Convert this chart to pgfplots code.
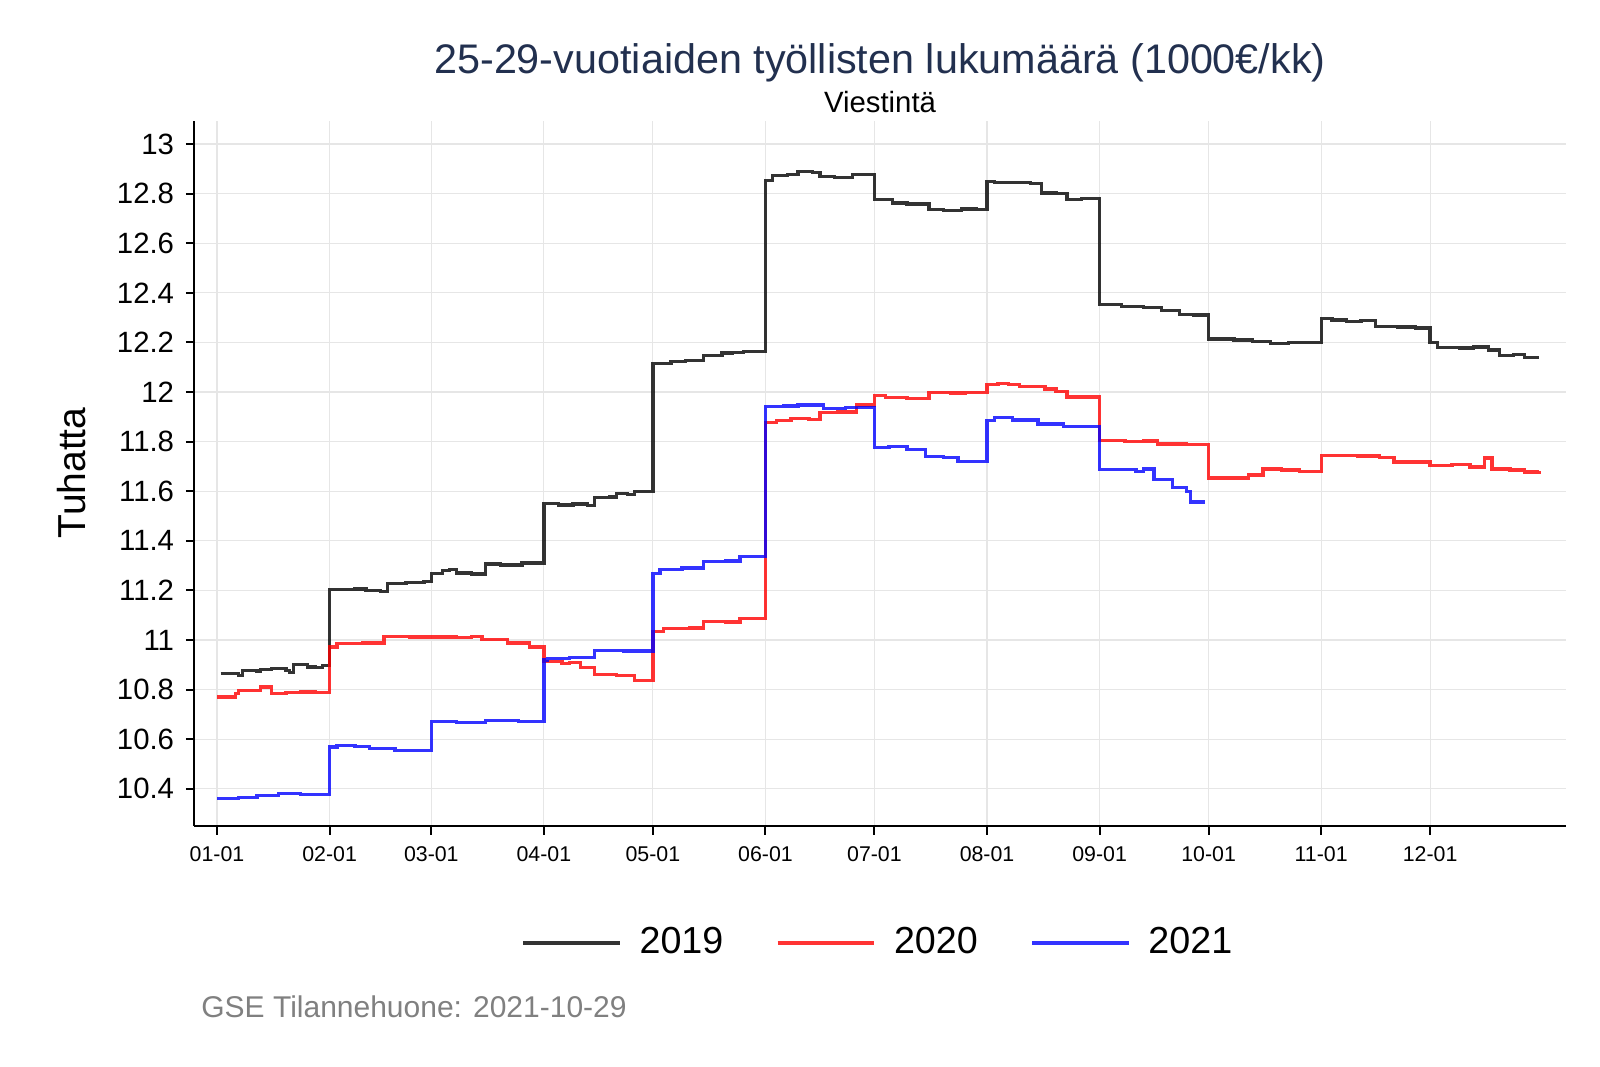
\documentclass[border=0pt]{standalone}
\usepackage{fontspec}
\setmainfont{Liberation Sans}
\usepackage{pgfplots}
\pgfplotsset{compat=1.18}
\definecolor{c19}{HTML}{000000}
\definecolor{c20}{HTML}{FF0000}
\definecolor{c21}{HTML}{0000FF}
\definecolor{titlecol}{HTML}{22304F}
\definecolor{gridc}{HTML}{E6E6E6}
\definecolor{capc}{HTML}{808080}
\begin{document}
\begin{tikzpicture}[x=1pt,y=1pt]
\useasboundingbox (0,0) rectangle (480,320.1);
\begin{axis}[
  at={(58.35pt,72.3pt)}, anchor=south west,
  scale only axis, width=411.45pt, height=211.5pt,
  xmin=-6.2, xmax=371.4, ymin=10.25, ymax=13.093,
  axis x line*=bottom, axis y line*=left,
  axis line style={black, line width=0.6pt},
  xtick={0,31,59,90,120,151,181,212,243,273,304,334},
  xticklabels={01-01,02-01,03-01,04-01,05-01,06-01,07-01,08-01,09-01,10-01,11-01,12-01},
  ytick={10.4,10.6,10.8,11,11.2,11.4,11.6,11.8,12,12.2,12.4,12.6,12.8,13},
  yticklabels={10.4,10.6,10.8,11,11.2,11.4,11.6,11.8,12,12.2,12.4,12.6,12.8,13},
  grid=major, grid style={gridc, line width=0.35pt},
  tick align=outside, major tick length=2.6pt, tick style={black, line width=0.6pt},
  xticklabel style={font=\fontsize{6.4}{7}\selectfont},
  yticklabel style={font=\fontsize{8.8}{10}\selectfont},
  legend columns=3,
  legend style={at={(0.5,-0.166)}, anchor=center, draw=none, fill=none,
    font=\fontsize{11.3}{13}\selectfont,
    /tikz/every odd column/.append style={column sep=3.4pt},
    /tikz/every even column/.append style={column sep=13.8pt}},
  legend image code/.code={\draw[#1, line width=1pt, opacity=0.8] (0pt,0pt) -- (29pt,0pt);},
  const plot, no marks,
]
\addplot[c19, line width=1pt, opacity=0.8] coordinates {
(1,10.865) (6,10.858) (7,10.878) (11,10.874) (12,10.88) (15,10.885) (19,10.876) (20,10.868) (21,10.902) (25,10.891) (27,10.888) (29,10.898)
(31,11.203) (38,11.205) (41,11.2) (45,11.195) (47,11.228) (52,11.232) (57,11.235) (59,11.268) (62,11.281) (64,11.285) (66,11.27) (70,11.266) (74,11.306) (78,11.303) (84,11.311)
(90,11.551) (94,11.545) (98,11.548) (102,11.542) (104,11.574) (108,11.577) (110,11.592) (113,11.588) (115,11.6)
(120,12.114) (125,12.123) (129,12.128) (134,12.146) (139,12.157) (142,12.16) (145,12.163)
(151,12.854) (153,12.874) (157,12.878) (160,12.89) (164,12.885) (166,12.87) (170,12.866) (175,12.877)
(181,12.777) (186,12.762) (190,12.758) (196,12.737) (200,12.733) (205,12.738) (209,12.735)
(212,12.85) (214,12.844) (220,12.846) (224,12.84) (227,12.803) (231,12.8) (234,12.777) (238,12.781)
(243,12.353) (249,12.346) (255,12.34) (260,12.33) (265,12.313) (269,12.31)
(273,12.214) (280,12.21) (285,12.205) (290,12.197) (295,12.2)
(304,12.296) (307,12.29) (311,12.285) (315,12.289) (319,12.265) (325,12.262) (330,12.258)
(334,12.2) (336,12.18) (342,12.178) (346,12.182) (350,12.17) (353,12.146) (357,12.15) (360,12.14) (364,12.14)
};
\addlegendentry{2019}
\addplot[c20, line width=1pt, opacity=0.8] coordinates {
(0,10.77) (5,10.785) (6,10.797) (12,10.81) (15,10.784) (19,10.787) (23,10.79) (27,10.787)
(31,10.972) (33,10.986) (40,10.988) (46,11.015) (53,11.012) (60,11.012) (66,11.01) (70,11.013) (73,11.003) (80,10.988) (86,10.972)
(90,10.912) (95,10.906) (97,10.91) (100,10.89) (104,10.861) (110,10.858) (115,10.836)
(120,11.034) (123,11.047) (130,11.048) (134,11.074) (140,11.072) (144,11.087)
(151,11.876) (154,11.886) (158,11.894) (163,11.89) (166,11.917) (171,11.92) (176,11.948)
(181,11.985) (184,11.978) (190,11.974) (196,11.999) (202,11.996) (206,11.998)
(212,12.031) (215,12.035) (218,12.03) (221,12.021) (228,12.012) (231,12.002) (234,11.98)
(243,11.805) (250,11.8) (255,11.803) (259,11.79) (267,11.788)
(273,11.653) (284,11.666) (288,11.69) (293,11.686) (298,11.68)
(304,11.745) (314,11.742) (320,11.735) (324,11.718) (334,11.704) (340,11.708) (345,11.698) (349,11.734) (351,11.69) (356,11.686) (360,11.677) (364,11.68)
};
\addlegendentry{2020}
\addplot[c21, line width=1pt, opacity=0.8] coordinates {
(0,10.36) (6,10.364) (11,10.374) (17,10.38) (23,10.378)
(31,10.569) (33,10.575) (38,10.57) (42,10.562) (49,10.555)
(59,10.672) (66,10.668) (74,10.676) (83,10.672)
(90,10.919) (91,10.926) (97,10.93) (104,10.957) (112,10.955)
(120,11.269) (122,11.285) (128,11.29) (134,11.316) (140,11.318) (144,11.336)
(151,11.941) (156,11.944) (160,11.948) (167,11.934) (173,11.938)
(181,11.775) (185,11.781) (190,11.769) (195,11.74) (200,11.735) (204,11.721)
(212,11.885) (214,11.898) (219,11.887) (226,11.871) (233,11.862)
(243,11.687) (253,11.68) (255,11.69) (258,11.646) (263,11.616) (267,11.6) (268,11.556) (272,11.556)
};
\addlegendentry{2021}
\end{axis}
\node[anchor=base, text=titlecol, font=\fontsize{12.4}{14}\selectfont] at (264,297.9) {25-29-vuotiaiden työllisten lukumäärä (1000€/kk)};
\node[anchor=base, font=\fontsize{8.8}{10}\selectfont] at (264,286.3) {Viestintä};
\node[rotate=90, font=\fontsize{11.7}{13}\selectfont] at (21.6,178.2) {Tuhatta};
\node[anchor=base west, inner sep=0pt, text=capc, font=\fontsize{9}{11}\selectfont] at (60.2,14.8) {GSE Tilannehuone: 2021-10-29};
\end{tikzpicture}
\end{document}
